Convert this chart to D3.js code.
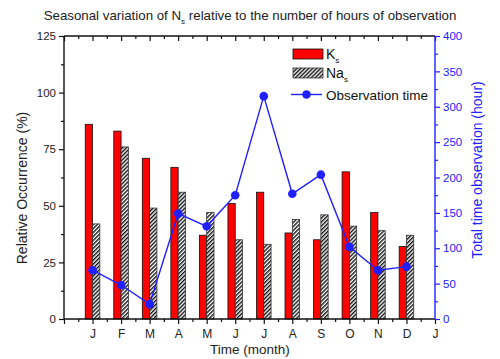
<!DOCTYPE html>
<html><head><meta charset="utf-8">
<script src="https://cdn.jsdelivr.net/npm/d3@7"></script>
<style>body{margin:0;background:#fff;} text{font-family:"Liberation Sans",Arial,sans-serif;}</style>
</head><body>
<svg id="c" width="500" height="359"></svg>
<script>
const months = ["J","F","M","A","M","J","J","A","S","O","N","D"];
const endLabel = "J";
const kValues = [86,83,71,67,37,51,56,38,35,65,47,32];
const naValues = [42,76,49,56,47,35,33,44,46,41,39,37];
const obsHours = [69,48,21,149,131,175,315,177,204,102,69,74];
const leftTicks = [0,25,50,75,100,125];
const rightTicks = [0,50,100,150,200,250,300,350,400];

(function(){
const FF = "'Liberation Sans', Arial, sans-serif";
const svg = d3.select("#c");
const L=64,R=435,T=36,B=319;
const blue="#2020ff";
const x = d3.scaleLinear().domain([0,13]).range([L,R]);
const y = d3.scaleLinear().domain([0,125]).range([B,T]);
const y2 = d3.scaleLinear().domain([0,400]).range([B,T]);
const bw = 7.3;

const defs = svg.append("defs");
const pat = defs.append("pattern").attr("id","hatch").attr("patternUnits","userSpaceOnUse")
  .attr("width",2.8).attr("height",2.8).attr("patternTransform","rotate(45)");
pat.append("rect").attr("width",2.8).attr("height",2.8).attr("fill","#fff");
pat.append("line").attr("x1",0.7).attr("y1",0).attr("x2",0.7).attr("y2",2.8).attr("stroke","#111").attr("stroke-width",1.4);

// title
const title = svg.append("text").attr("x",250).attr("y",20).attr("text-anchor","middle").attr("font-size",13.3).attr("fill","#222");
title.append("tspan").text("Seasonal variation of N");
title.append("tspan").text("s").attr("font-size",8).attr("dy",4);
title.append("tspan").text(" relative to the number of hours of observation").attr("dy",-4);

// bars
svg.append("g").selectAll("rect").data(kValues).join("rect")
  .attr("x",(d,i)=>x(i+1)-bw).attr("width",bw)
  .attr("y",d=>y(d)).attr("height",d=>B-y(d))
  .attr("fill","#ff0000").attr("stroke","#111").attr("stroke-width",0.8);
svg.append("g").selectAll("rect").data(naValues).join("rect")
  .attr("x",(d,i)=>x(i+1)).attr("width",bw)
  .attr("y",d=>y(d)).attr("height",d=>B-y(d))
  .attr("fill","url(#hatch)").attr("stroke","#333").attr("stroke-width",0.8);

// line
const line = d3.line().x((d,i)=>x(i+1)).y(d=>y2(d));
svg.append("path").datum(obsHours).attr("d",line).attr("fill","none").attr("stroke",blue).attr("stroke-width",1.4);
svg.append("g").selectAll("circle").data(obsHours).join("circle")
  .attr("cx",(d,i)=>x(i+1)).attr("cy",d=>y2(d)).attr("r",4.3).attr("fill",blue);

// axes
const xMajor = d3.range(0,14);
const xMinor = d3.range(0,13).map(d=>d+0.5);
function styleLines(g,col){ g.select(".domain").remove(); g.selectAll("line").attr("stroke",col).attr("stroke-width",1.2); }
const bottomAx = svg.append("g").attr("transform",`translate(0,${B})`);
bottomAx.call(d3.axisBottom(x).tickValues(xMajor).tickSize(5).tickFormat((d)=> d===0?"":(d===13?endLabel:months[d-1])));
styleLines(bottomAx,"#111");
bottomAx.selectAll(".tick text").attr("font-size",12).attr("fill","#222").attr("y",18.5).attr("dy",0).style("font-family",FF);
const bm = svg.append("g").attr("transform",`translate(0,${B})`);
bm.call(d3.axisBottom(x).tickValues(xMinor).tickSize(3).tickFormat(""));
styleLines(bm,"#111");

const topAx = svg.append("g").attr("transform",`translate(0,${T})`);
topAx.call(d3.axisBottom(x).tickValues(xMajor).tickSize(5).tickFormat(""));
styleLines(topAx,"#111");
const tm = svg.append("g").attr("transform",`translate(0,${T})`);
tm.call(d3.axisBottom(x).tickValues(xMinor).tickSize(3).tickFormat(""));
styleLines(tm,"#111");

const leftAx = svg.append("g").attr("transform",`translate(${L},0)`);
leftAx.call(d3.axisLeft(y).tickValues(leftTicks).tickSize(5).tickPadding(3));
styleLines(leftAx,"#111");
leftAx.selectAll(".tick text").attr("font-size",11.5).attr("fill","#222").style("font-family",FF);
const lm = svg.append("g").attr("transform",`translate(${L},0)`);
lm.call(d3.axisLeft(y).tickValues(leftTicks.slice(0,-1).map(d=>d+12.5)).tickSize(3).tickFormat(""));
styleLines(lm,"#111");

const rightAx = svg.append("g").attr("transform",`translate(${R},0)`);
rightAx.call(d3.axisRight(y2).tickValues(rightTicks).tickSize(5).tickPadding(3));
styleLines(rightAx,blue);
rightAx.selectAll(".tick text").attr("font-size",11.5).attr("fill",blue).style("font-family",FF);
const rm = svg.append("g").attr("transform",`translate(${R},0)`);
rm.call(d3.axisRight(y2).tickValues(rightTicks.slice(0,-1).map(d=>d+25)).tickSize(3).tickFormat(""));
styleLines(rm,blue);

// frame lines
svg.append("line").attr("x1",L).attr("x2",R).attr("y1",T).attr("y2",T).attr("stroke","#111").attr("stroke-width",1.4);
svg.append("line").attr("x1",L).attr("x2",R).attr("y1",B).attr("y2",B).attr("stroke","#111").attr("stroke-width",1.4);
svg.append("line").attr("x1",L).attr("x2",L).attr("y1",T).attr("y2",B).attr("stroke","#111").attr("stroke-width",1.4);
svg.append("line").attr("x1",R).attr("x2",R).attr("y1",T).attr("y2",B).attr("stroke",blue).attr("stroke-width",1.4);

// axis labels
svg.append("text").attr("x",250).attr("y",354).attr("text-anchor","middle").attr("font-size",13.5).attr("fill","#222").text("Time (month)");
svg.append("text").attr("transform","translate(27,188) rotate(-90)").attr("text-anchor","middle").attr("font-size",14).attr("fill","#222").text("Relative Occurrence (%)");
svg.append("text").attr("transform","translate(482,170) rotate(-90)").attr("text-anchor","middle").attr("font-size",14).attr("fill",blue).text("Total time observation (hour)");

// legend
const lg = svg.append("g");
lg.append("rect").attr("x",293).attr("y",49).attr("width",30).attr("height",10).attr("fill","#ff0000").attr("stroke","#111").attr("stroke-width",0.8);
lg.append("rect").attr("x",293).attr("y",68).attr("width",30).attr("height",10).attr("fill","url(#hatch)").attr("stroke","#333").attr("stroke-width",0.8);
lg.append("line").attr("x1",291).attr("x2",322).attr("y1",94.5).attr("y2",94.5).attr("stroke",blue).attr("stroke-width",1.4);
lg.append("circle").attr("cx",306.5).attr("cy",94.5).attr("r",4.3).attr("fill",blue);
const t1 = lg.append("text").attr("x",326).attr("y",59).attr("font-size",14).attr("fill","#111");
t1.append("tspan").text("K"); t1.append("tspan").text("s").attr("font-size",8).attr("dy",4);
const t2 = lg.append("text").attr("x",326).attr("y",78).attr("font-size",14).attr("fill","#111");
t2.append("tspan").text("Na"); t2.append("tspan").text("s").attr("font-size",8).attr("dy",4);
lg.append("text").attr("x",326).attr("y",99.5).attr("font-size",13.5).attr("fill","#111").text("Observation time");
})();
</script>
</body></html>
